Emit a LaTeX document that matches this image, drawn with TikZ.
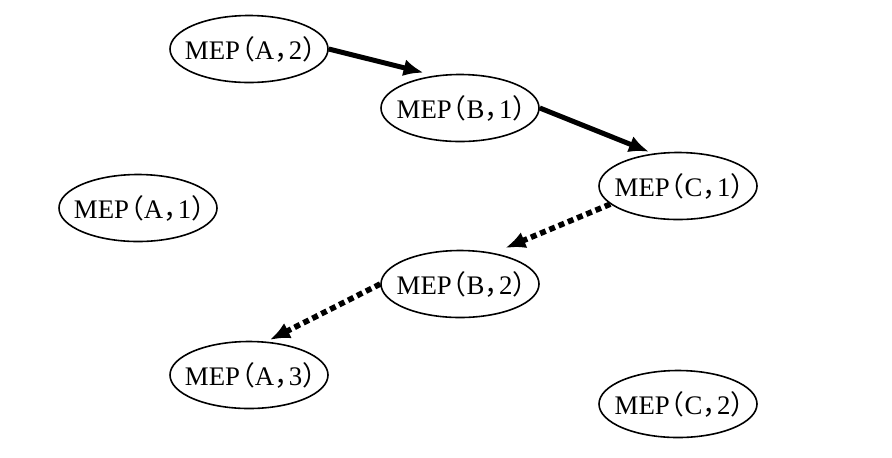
\documentclass[tikz,border=0pt]{standalone}
\usepackage{fontspec}
\setmainfont{Liberation Serif}
\newfontfamily\cjk{Noto Sans CJK SC}
\usetikzlibrary{shapes.geometric,arrows.meta}
\newcommand\mep[2]{\makebox[0pt]{MEP{\cjk\hspace{-0.45em}（}#1{\cjk ，\hspace{-0.45em}}#2{\cjk ）\hspace{-0.6em}}}}
\tikzstyle{state} = [draw, ellipse, thick, inner sep=0pt, minimum width=79pt, minimum height=33.5pt, font=\fontsize{13.4}{15}\selectfont]
\tikzstyle{solidline} = [draw, line width=2.5pt, -{Latex[length=10pt,width=8.5pt]}]
\tikzstyle{dotline} = [draw, line width=2.8pt, dash pattern=on 3pt off 2pt, -{Latex[length=10pt,width=8.5pt]}]

\begin{document}
\begin{tikzpicture}[x=0.5pt, y=-0.5pt]
        \useasboundingbox (0,0) rectangle (892,457);
        \node[state] (a2) at (249,49) {\mep{A}{2}};
        \node[state] (b1) at (460,108) {\mep{B}{1}};
        \node[state] (c1) at (678,186) {\mep{C}{1}};
        \node[state] (a1) at (138,208) {\mep{A}{1}};
        \node[state] (b2) at (460,284) {\mep{B}{2}};
        \node[state] (a3) at (249,375) {\mep{A}{3}};
        \node[state] (c2) at (678,404) {\mep{C}{2}};
        \path[solidline] (a2.east) -- ([shift={(-4,-4)}]b1.136);
        \path[solidline] (b1.east) -- ([shift={(-2,-2)}]c1.130);
        \path[dotline] (c1.195) -- ([shift={(7,-6)}]b2.38);
        \path[dotline] (b2.west) -- ([shift={(1,-2)}]a3.59);
    \end{tikzpicture}
\end{document}
